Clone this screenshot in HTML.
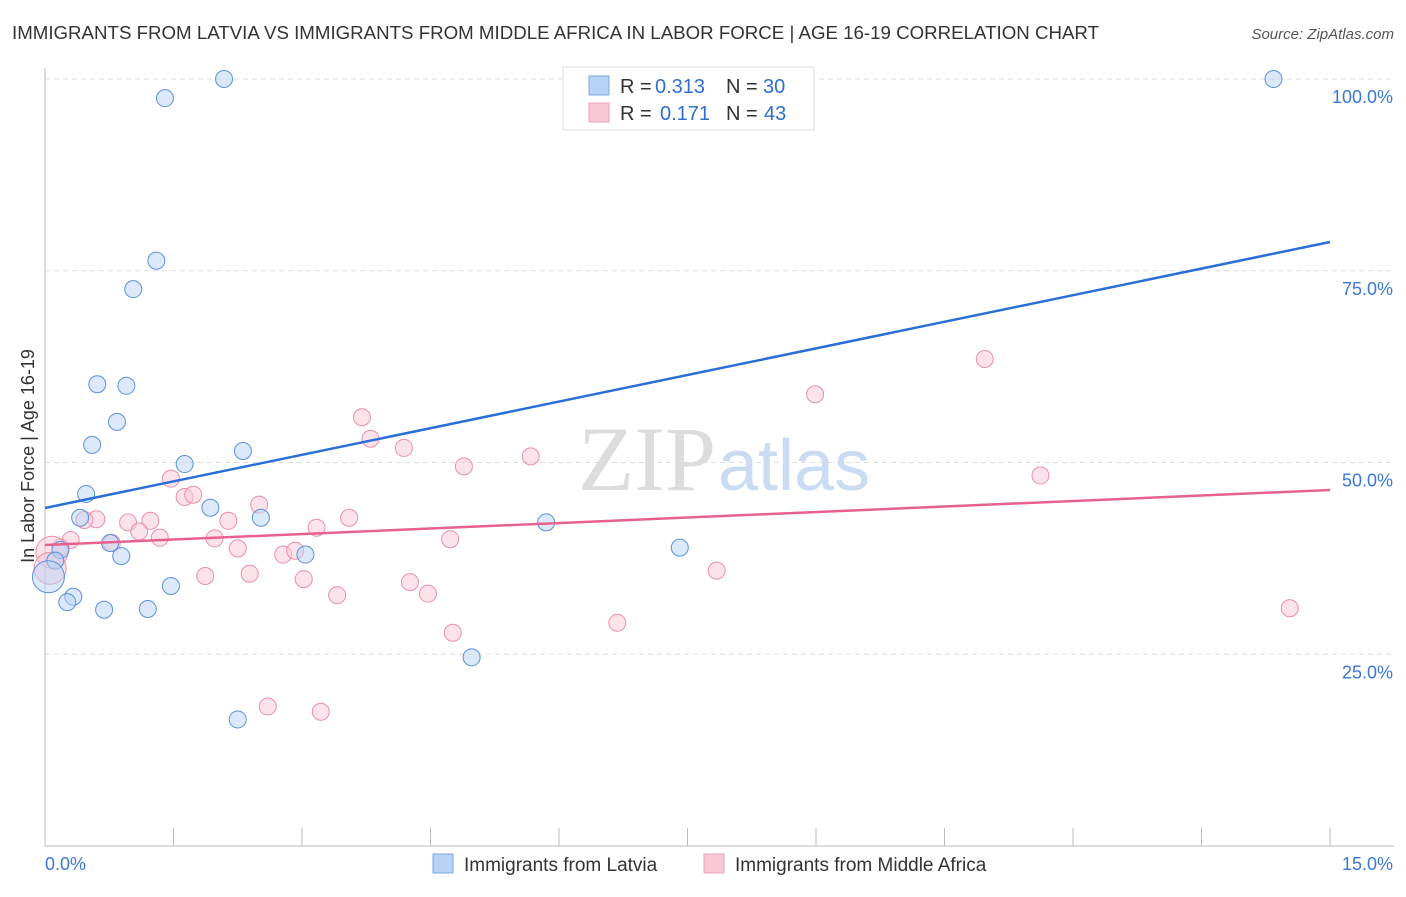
<!DOCTYPE html>
<html><head><meta charset="utf-8"><style>
body{margin:0;background:#fff;font-family:"Liberation Sans",sans-serif;}
</style></head><body>
<svg width="1406" height="892" xmlns="http://www.w3.org/2000/svg" font-family="Liberation Sans, sans-serif">
<text x="12" y="39" font-size="18" fill="#333" textLength="1087" lengthAdjust="spacingAndGlyphs">IMMIGRANTS FROM LATVIA VS IMMIGRANTS FROM MIDDLE AFRICA IN LABOR FORCE | AGE 16-19 CORRELATION CHART</text>
<text x="1394" y="39" font-size="15" fill="#555" font-style="italic" text-anchor="end">Source: ZipAtlas.com</text>
<text x="716" y="490" font-size="92" fill="#ddd" text-anchor="end" font-family="Liberation Serif, serif">ZIP</text>
<text x="718" y="490" font-size="72" fill="#c9dcf2">atlas</text>
<g id="grid"></g>
<g id="axes"></g>
<g id="marks"></g>
<text transform="translate(34,456) rotate(-90)" font-size="18" fill="#333" text-anchor="middle">In Labor Force | Age 16-19</text>
<g>
<rect x="563" y="67" width="251" height="63" fill="#fff" stroke="#ddd"/>
<rect x="589" y="76" width="20" height="19" fill="#b8d3f5" stroke="#7aaae6"/>
<rect x="589" y="103" width="20" height="19" fill="#f9c8d6" stroke="#f0a0b8"/>
<text x="620" y="93" font-size="20" fill="#333">R =</text>
<text x="655" y="93" font-size="20" fill="#2f6fd0">0.313</text>
<text x="726" y="93" font-size="20" fill="#333">N =</text>
<text x="763" y="93" font-size="20" fill="#2f6fd0">30</text>
<text x="620" y="120" font-size="20" fill="#333">R =</text>
<text x="660" y="120" font-size="20" fill="#2f6fd0">0.171</text>
<text x="726" y="120" font-size="20" fill="#333">N =</text>
<text x="764" y="120" font-size="20" fill="#2f6fd0">43</text>
</g>
<g>
<rect x="433" y="854" width="20" height="19" fill="#b8d3f5" stroke="#7aaae6"/>
<text x="464" y="871" font-size="19" fill="#333">Immigrants from Latvia</text>
<rect x="704" y="854" width="20" height="19" fill="#f9c8d6" stroke="#f0a0b8"/>
<text x="735" y="871" font-size="19" fill="#333">Immigrants from Middle Africa</text>
</g>
</svg>
<script>
const blueX=[2.09,1.40,14.34,1.30,1.03,0.61,0.95,0.84,0.55,2.31,1.63,0.48,1.93,0.41,2.52,5.85,0.76,0.89,3.04,0.18,0.12,7.41,0.04,0.33,0.26,0.69,1.20,1.47,4.98,2.25];
const blueY=[100,97.5,100,76.3,72.6,60.2,60.0,55.3,52.3,51.5,49.8,45.9,44.1,42.8,42.8,42.2,39.5,37.8,38.0,38.6,37.2,38.9,35.1,32.5,31.8,30.8,30.9,33.9,24.6,16.5];
const pinkX=[10.97,8.99,11.62,14.53,3.70,3.80,4.19,4.89,5.67,1.47,1.63,1.73,2.50,2.14,0.60,0.97,1.23,0.46,1.34,1.10,1.98,2.25,0.30,0.18,2.78,2.92,3.17,3.55,4.73,3.02,2.39,1.87,4.26,4.47,3.41,0.08,0.06,4.76,6.68,7.84,2.60,3.22,0.78];
const pinkY=[63.5,58.9,48.3,31.0,55.9,53.1,51.9,49.5,50.8,47.9,45.5,45.8,44.5,42.4,42.6,42.2,42.4,42.5,40.2,41.0,40.1,38.8,39.9,38.9,38.0,38.5,41.5,42.8,40.0,34.8,35.5,35.2,34.4,32.9,32.7,38.3,36.2,27.8,29.1,35.9,18.2,17.5,39.5];
const blueLine=[44.07,78.75];
const pinkLine=[39.24,46.41];
const yTicks=[25,50,75,100];
const yTickLabels=["25.0%","50.0%","75.0%","100.0%"];
const xMax=15;
const sx=v=>45+v/xMax*1285;
const sy=v=>846-v/100*767;
const NS="http://www.w3.org/2000/svg";
function mk(t,a,p){const e=document.createElementNS(NS,t);for(const k in a)e.setAttribute(k,a[k]);p.appendChild(e);return e;}
const grid=document.getElementById('grid'),axes=document.getElementById('axes'),marks=document.getElementById('marks');
yTicks.forEach((t,i)=>{
 const l=mk('line',{x1:45,x2:1394,y1:sy(t),y2:sy(t),stroke:'#ddd','stroke-dasharray':'5,4'},grid);
 
 
 const tx=mk('text',{x:1393,y:sy(t)+24,'font-size':18,fill:'#3b78d8','text-anchor':'end'},axes);
 tx.textContent=yTickLabels[i];
 
 
});
const ya=mk('line',{x1:45,x2:45,y1:68,y2:846,stroke:'#bbb'},axes);


const xa=mk('line',{x1:45,x2:1394,y1:846,y2:846,stroke:'#bbb'},axes);


for(let i=0;i<=10;i++){const x=45+i*128.5;const t=mk('line',{x1:x,x2:x,y1:828,y2:846,stroke:'#bbb'},axes);
 
 }
[["0.0%",45,'start'],["15.0%",1393,'end']].forEach(([s,x,a])=>{const t=mk('text',{x:x,y:870,'font-size':18,fill:'#3b78d8','text-anchor':a},axes);t.textContent=s;
 
 });
function pts(X,Y,fill,stroke,name){X.forEach((x,i)=>{const r=x<0.1?16:8.5;const c=mk('circle',{cx:sx(x),cy:sy(Y[i]),r:r,fill:fill,'fill-opacity':0.5,stroke:stroke,'stroke-width':1},marks);
 
 });}
pts(pinkX,pinkY,'#f9c8d6','#eb8fab','point-middle-africa');
pts(blueX,blueY,'#b8d3f5','#5a92e0','point-latvia');
const bl=mk('line',{x1:sx(0),y1:sy(blueLine[0]),x2:sx(15),y2:sy(blueLine[1]),stroke:'#2a6fd6','stroke-width':2.5},marks);


const pl=mk('line',{x1:sx(0),y1:sy(pinkLine[0]),x2:sx(15),y2:sy(pinkLine[1]),stroke:'#e8618c','stroke-width':2.5},marks);


</script>
</body></html>
